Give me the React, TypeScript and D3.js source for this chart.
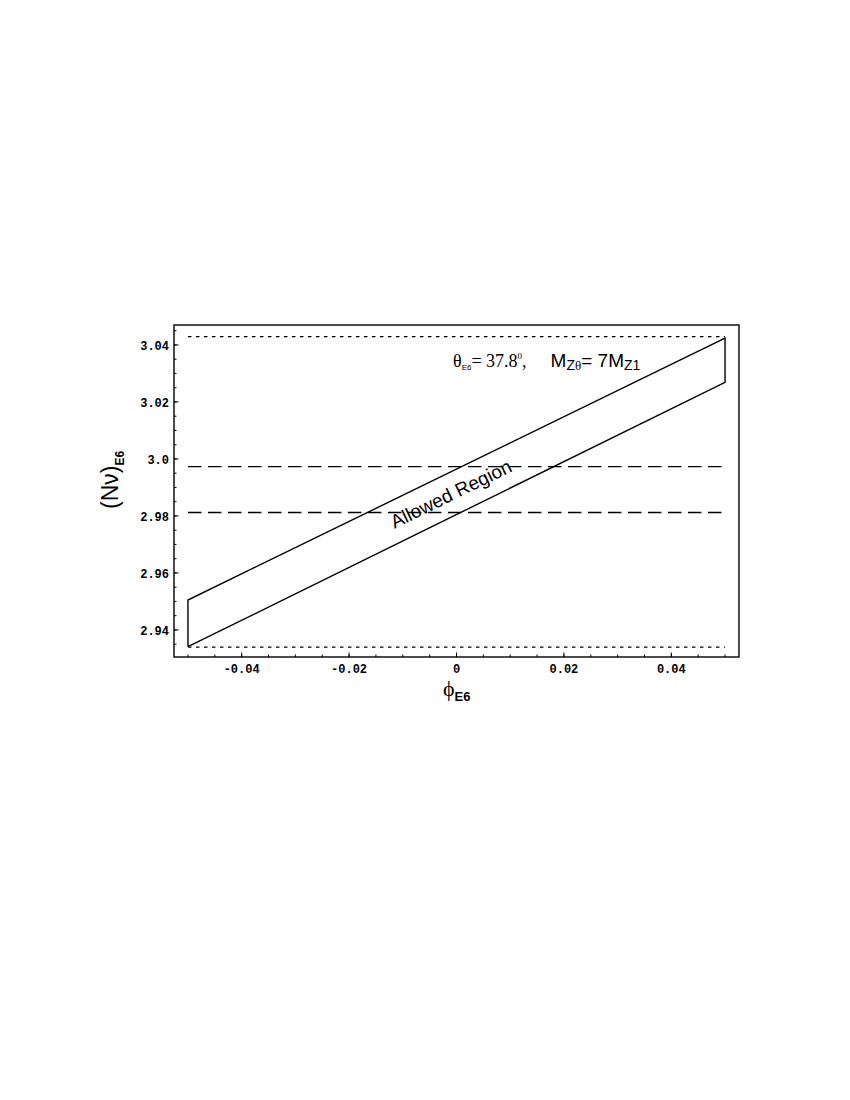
import React from 'react';
import * as d3 from 'd3';

// axis ranges and ticks
const phiDomain = [-0.0526, 0.0526];
const nuDomain = [2.9305, 3.047];
const phiTicks = [-0.04, -0.02, 0, 0.02, 0.04];
const phiTickLabels = ['-0.04', '-0.02', '0', '0.02', '0.04'];
const nuTicks = [2.94, 2.96, 2.98, 3.0, 3.02, 3.04];
const nuTickLabels = ['2.94', '2.96', '2.98', '3.0', '3.02', '3.04'];
const phiMinor = [-0.05, -0.045, -0.04, -0.035, -0.03, -0.025, -0.02, -0.015, -0.01, -0.005, 0, 0.005, 0.01, 0.015, 0.02, 0.025, 0.03, 0.035, 0.04, 0.045, 0.05];
const nuMinor = [2.935, 2.94, 2.945, 2.95, 2.955, 2.96, 2.965, 2.97, 2.975, 2.98, 2.985, 2.99, 2.995, 3.0, 3.005, 3.01, 3.015, 3.02, 3.025, 3.03, 3.035, 3.04, 3.045];

// allowed region outline (phi, N)
const regionPhi = [-0.05, 0.05, 0.05, -0.05];
const regionNu = [2.9341, 3.0269, 3.0424, 2.9505];

// horizontal reference lines
const refPhiRange = [-0.05, 0.05];
const dashedLevels = [2.9973, 2.9812];
const dottedLevels = [3.0429, 2.934];

const left = 174;
const right = 739;
const top = 325;
const bottom = 657;

export default function App() {
  const x = d3.scaleLinear().domain(phiDomain).range([left, right]);
  const y = d3.scaleLinear().domain(nuDomain).range([bottom, top]);

  const regionPts: [number, number][] = regionPhi.map((p, i) => [x(p), y(regionNu[i])]);
  const outline = d3.line()(regionPts.concat([regionPts[0]])) || '';

  const mono = '"Liberation Mono", "DejaVu Sans Mono", monospace';
  const sans = '"Liberation Sans", Arial, sans-serif';
  const serif = '"Liberation Serif", "Times New Roman", serif';

  return (
    <svg width={850} height={1100} style={{ position: 'absolute', left: 0, top: 0, background: '#fff' }}>
      {/* frame */}
      <rect x={left} y={top} width={right - left} height={bottom - top} fill="none" stroke="#000" strokeWidth={1.4} />

      {/* minor ticks */}
      {phiMinor.map((t, i) => (
        <line key={'xm' + i} x1={x(t)} x2={x(t)} y1={bottom} y2={bottom - 2.5} stroke="#000" strokeWidth={1} />
      ))}
      {nuMinor.map((t, i) => (
        <line key={'ym' + i} x1={left} x2={left + 2.5} y1={y(t)} y2={y(t)} stroke="#000" strokeWidth={1} />
      ))}
      {/* major ticks + labels */}
      {phiTicks.map((t, i) => (
        <g key={'x' + i}>
          <line x1={x(t)} x2={x(t)} y1={bottom} y2={bottom - 4.5} stroke="#000" strokeWidth={1} />
          <text x={x(t)} y={673} textAnchor="middle" fontFamily={mono} fontWeight="bold" fontSize={12}>
            {phiTickLabels[i]}
          </text>
        </g>
      ))}
      {nuTicks.map((t, i) => (
        <g key={'y' + i}>
          <line x1={left} x2={left + 4.5} y1={y(t)} y2={y(t)} stroke="#000" strokeWidth={1} />
          <text x={169} y={y(t) + 5.5} textAnchor="end" fontFamily={mono} fontWeight="bold" fontSize={12}>
            {nuTickLabels[i]}
          </text>
        </g>
      ))}

      {/* reference lines */}
      {dottedLevels.map((v, i) => (
        <line key={'dot' + i} x1={x(refPhiRange[0])} x2={x(refPhiRange[1])} y1={y(v)} y2={y(v)}
          stroke="#000" strokeWidth={1.2} strokeDasharray="3.5,4.5" />
      ))}
      {dashedLevels.map((v, i) => (
        <line key={'dash' + i} x1={x(refPhiRange[0])} x2={x(refPhiRange[1])} y1={y(v)} y2={y(v)}
          stroke="#000" strokeWidth={1.3} strokeDasharray="13.5,6.5" />
      ))}

      {/* allowed region */}
      <path d={outline} fill="none" stroke="#000" strokeWidth={1.4} strokeLinejoin="miter" />
      <text x={451} y={494} textAnchor="middle" dominantBaseline="central" fontFamily={sans} fontSize={19}
        transform="rotate(-26, 451, 494)">Allowed Region</text>

      {/* annotation */}
      <text x={453} y={367} fontSize={18}>
        <tspan fontFamily={serif}>θ</tspan>
        <tspan fontFamily={sans} fontSize={8} dy={3}>E6</tspan>
        <tspan fontFamily={serif} dy={-3}>= 37.8</tspan>
        <tspan fontFamily={serif} fontSize={9} dy={-8}>0</tspan>
        <tspan fontFamily={serif} dy={8}>,</tspan>
        <tspan fontFamily={sans} fontSize={19} dx={24}>M</tspan>
        <tspan fontFamily={sans} fontSize={14} dy={3}>Z</tspan>
        <tspan fontFamily={serif} fontSize={13}>θ</tspan>
        <tspan fontFamily={sans} fontSize={19} dy={-3}>= 7M</tspan>
        <tspan fontFamily={sans} fontSize={14} dy={3}>Z1</tspan>
      </text>

      {/* axis titles */}
      <text transform="translate(118, 509) rotate(-90)" fontFamily={sans}>
        <tspan fontSize={23}>(Nν)</tspan>
        <tspan fontSize={12} fontWeight="bold" dy={6}>E6</tspan>
      </text>
      <text x={443} y={696} fontFamily={serif} fontSize={22}>
        <tspan>ϕ</tspan>
        <tspan fontFamily={sans} fontSize={13} fontWeight="bold" dy={5}>E6</tspan>
      </text>
    </svg>
  );
}
